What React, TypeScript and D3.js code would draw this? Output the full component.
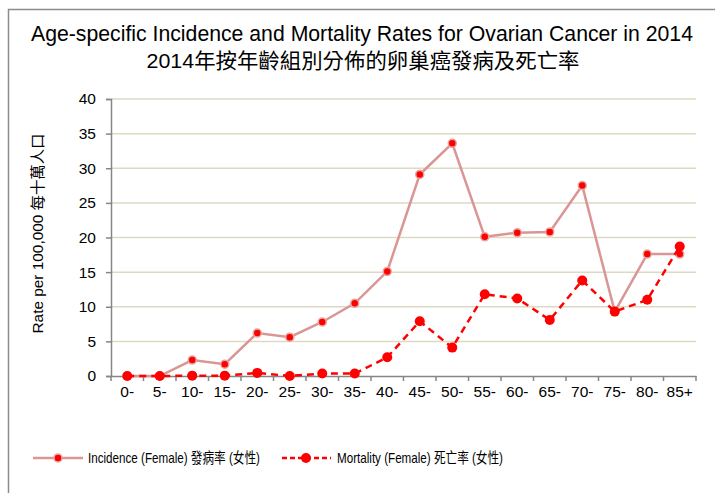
import { useEffect, useRef } from "react";
import * as d3 from "d3";

const ageGroups = ["0-", "5-", "10-", "15-", "20-", "25-", "30-", "35-", "40-", "45-", "50-", "55-", "60-", "65-", "70-", "75-", "80-", "85+"];
const incidence = [0, 0, 2.3, 1.7, 6.2, 5.6, 7.8, 10.5, 15.1, 29.1, 33.6, 20.1, 20.7, 20.8, 27.5, 9.3, 17.6, 17.6];
const mortality = [0, 0, 0.05, 0.05, 0.45, 0, 0.35, 0.35, 2.7, 7.9, 4.1, 11.8, 11.2, 8.1, 13.8, 9.3, 11.0, 18.7];
const yTicks = [0, 5, 10, 15, 20, 25, 30, 35, 40];

const titleEn = "Age-specific Incidence and Mortality Rates for Ovarian Cancer in 2014";
const titleZh = "2014年按年齡組別分佈的卵巢癌發病及死亡率";
const yLabel = "Rate per 100,000 每十萬人口";
const legendInc = "Incidence (Female) 發病率 (女性)";
const legendMort = "Mortality (Female) 死亡率 (女性)";

const FONT = "'Liberation Sans', Arial, 'Noto Sans CJK TC', sans-serif";

function Chart() {
  const svgRef = useRef<SVGSVGElement>(null);
  const width = 715;
  const height = 493;

  useEffect(() => {
    const svg = d3.select(svgRef.current);
    svg.selectAll("*").remove();

    const left = 111, right = 696, top = 99, bottom = 376;

    const x = d3.scaleBand().domain(ageGroups).range([left, right]);
    const y = d3.scaleLinear().domain([0, 40]).range([bottom, top]);
    const cx = (d: string) => (x(d) as number) + x.bandwidth() / 2;

    // outer border
    svg.append("rect")
      .attr("x", 8.5).attr("y", 9.5)
      .attr("width", 760).attr("height", 520)
      .attr("fill", "white").attr("stroke", "#8c8c8c").attr("stroke-width", 1.5);

    // titles
    svg.append("text")
      .attr("x", 362).attr("y", 41)
      .attr("text-anchor", "middle")
      .attr("font-family", FONT).attr("font-size", "21.3px").attr("fill", "#000")
      .attr("textLength", 662).attr("lengthAdjust", "spacingAndGlyphs")
      .text(titleEn);
    svg.append("text")
      .attr("x", 363).attr("y", 68)
      .attr("text-anchor", "middle")
      .attr("font-family", FONT).attr("font-size", "21px").attr("fill", "#000")
      .attr("textLength", 433).attr("lengthAdjust", "spacingAndGlyphs")
      .text(titleZh);

    // gridlines
    svg.append("g")
      .selectAll("line")
      .data(yTicks.filter(t => t > 0))
      .join("line")
      .attr("x1", left).attr("x2", right)
      .attr("y1", d => y(d)).attr("y2", d => y(d))
      .attr("stroke", "#ddd9c3").attr("stroke-width", 1.5);

    // y axis
    const yAxis = svg.append("g")
      .attr("transform", `translate(${left},0)`)
      .call(d3.axisLeft(y).tickValues(yTicks).tickSize(5).tickPadding(10));
    yAxis.select(".domain").attr("stroke", "#868686").attr("stroke-width", 1.5);
    yAxis.selectAll(".tick line").attr("stroke", "#868686").attr("stroke-width", 1.5);
    yAxis.selectAll(".tick text")
      .attr("font-family", FONT).attr("font-size", "15.5px").attr("fill", "#000");

    // x axis
    const xAxis = svg.append("g")
      .attr("transform", `translate(0,${bottom})`)
      .call(d3.axisBottom(x).tickSize(0).tickPadding(10));
    xAxis.select(".domain").attr("stroke", "#868686").attr("stroke-width", 1.5);
    xAxis.selectAll(".tick text")
      .attr("font-family", FONT).attr("font-size", "15.5px").attr("fill", "#000");
    // category boundary ticks
    svg.append("g")
      .selectAll("line")
      .data(ageGroups.concat(["end"]))
      .join("line")
      .attr("x1", (d, i) => left + i * x.bandwidth())
      .attr("x2", (d, i) => left + i * x.bandwidth())
      .attr("y1", bottom).attr("y2", bottom + 5)
      .attr("stroke", "#868686").attr("stroke-width", 1.5);

    // y label
    svg.append("text")
      .attr("transform", `translate(43,${(top + bottom) / 2 - 4}) rotate(-90)`)
      .attr("text-anchor", "middle")
      .attr("font-family", FONT).attr("font-size", "15px").attr("fill", "#000")
      .attr("textLength", 200).attr("lengthAdjust", "spacingAndGlyphs")
      .text(yLabel);

    const line = d3.line<number>()
      .x((d, i) => cx(ageGroups[i]))
      .y(d => y(d));

    // incidence
    svg.append("path")
      .datum(incidence)
      .attr("d", line)
      .attr("fill", "none").attr("stroke", "#d99694").attr("stroke-width", 2.5);
    svg.append("g")
      .selectAll("circle")
      .data(incidence)
      .join("circle")
      .attr("cx", (d, i) => cx(ageGroups[i]))
      .attr("cy", d => y(d))
      .attr("r", 4)
      .attr("fill", "#ff0000").attr("stroke", "#e6a5a3").attr("stroke-width", 1.5);

    // mortality
    svg.append("path")
      .datum(mortality)
      .attr("d", line)
      .attr("fill", "none").attr("stroke", "#ff0000").attr("stroke-width", 2.5)
      .attr("stroke-dasharray", "7,5");
    svg.append("g")
      .selectAll("circle")
      .data(mortality)
      .join("circle")
      .attr("cx", (d, i) => cx(ageGroups[i]))
      .attr("cy", d => y(d))
      .attr("r", 5)
      .attr("fill", "#ff0000");

    // legend
    const ly = 458;
    const lg = svg.append("g");
    lg.append("line").attr("x1", 33).attr("x2", 83).attr("y1", ly).attr("y2", ly)
      .attr("stroke", "#d99694").attr("stroke-width", 2.5);
    lg.append("circle").attr("cx", 58).attr("cy", ly).attr("r", 4)
      .attr("fill", "#ff0000").attr("stroke", "#e6a5a3").attr("stroke-width", 1.5);
    lg.append("text").attr("x", 88).attr("y", ly + 5)
      .attr("font-family", FONT).attr("font-size", "15px").attr("fill", "#000")
      .attr("textLength", 172).attr("lengthAdjust", "spacingAndGlyphs")
      .text(legendInc);
    lg.append("line").attr("x1", 282).attr("x2", 331).attr("y1", ly).attr("y2", ly)
      .attr("stroke", "#ff0000").attr("stroke-width", 2.5).attr("stroke-dasharray", "5,3");
    lg.append("circle").attr("cx", 306).attr("cy", ly).attr("r", 5).attr("fill", "#ff0000");
    lg.append("text").attr("x", 337).attr("y", ly + 5)
      .attr("font-family", FONT).attr("font-size", "15px").attr("fill", "#000")
      .attr("textLength", 166).attr("lengthAdjust", "spacingAndGlyphs")
      .text(legendMort);
  }, []);

  return <svg ref={svgRef} width={width} height={height} style={{ display: "block" }} />;
}

export default function App() {
  return (
    <div style={{ position: "absolute", left: 0, top: 0 }}>
      <Chart />
    </div>
  );
}
